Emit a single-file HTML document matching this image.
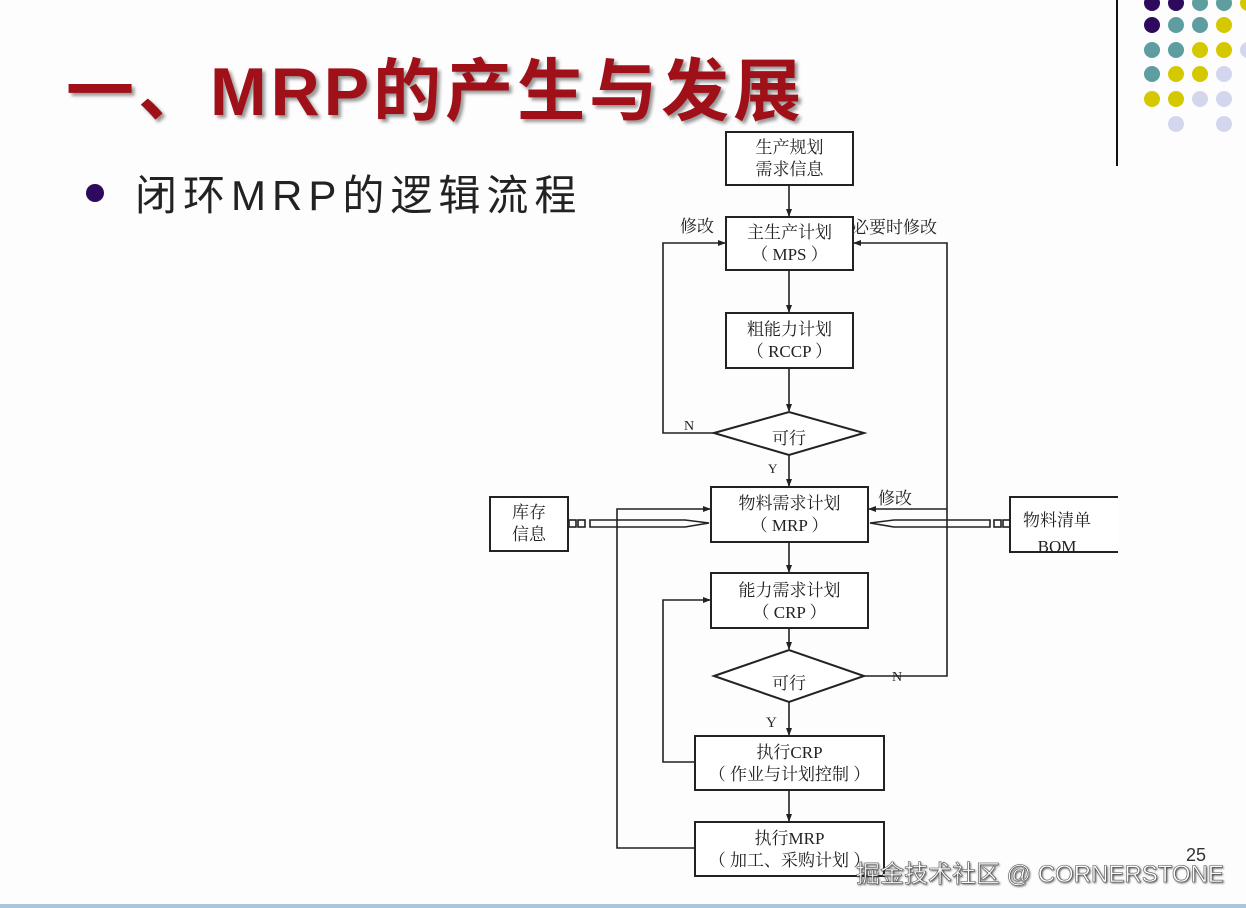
<!DOCTYPE html>
<html><head><meta charset="utf-8"><style>
body{margin:0;width:1246px;height:908px;background:#fdfdfe;overflow:hidden;position:relative;font-family:"Liberation Serif","Noto Serif CJK SC",serif}
.t{position:absolute}
</style></head><body>
<svg width="1246" height="908" style="position:absolute;left:0;top:0" xmlns="http://www.w3.org/2000/svg">
<defs><marker id="a" markerWidth="8" markerHeight="8" refX="7" refY="4" orient="auto" markerUnits="userSpaceOnUse"><path d="M0,1 L8,4 L0,7 z" fill="#222"/></marker></defs>
<line x1="1117" y1="0" x2="1117" y2="166" stroke="#111" stroke-width="2"/>
<g>
<circle cx="1152" cy="3" r="8" fill="#2e0a5e"/><circle cx="1176" cy="3" r="8" fill="#2e0a5e"/><circle cx="1200" cy="3" r="8" fill="#5f9ea0"/><circle cx="1224" cy="3" r="8" fill="#5f9ea0"/><circle cx="1248" cy="3" r="8" fill="#d4c800"/>
<circle cx="1152" cy="25" r="8" fill="#2e0a5e"/><circle cx="1176" cy="25" r="8" fill="#5f9ea0"/><circle cx="1200" cy="25" r="8" fill="#5f9ea0"/><circle cx="1224" cy="25" r="8" fill="#d4c800"/>
<circle cx="1152" cy="50" r="8" fill="#5f9ea0"/><circle cx="1176" cy="50" r="8" fill="#5f9ea0"/><circle cx="1200" cy="50" r="8" fill="#d4c800"/><circle cx="1224" cy="50" r="8" fill="#d4c800"/><circle cx="1248" cy="50" r="8" fill="#d4d6ee"/>
<circle cx="1152" cy="74" r="8" fill="#5f9ea0"/><circle cx="1176" cy="74" r="8" fill="#d4c800"/><circle cx="1200" cy="74" r="8" fill="#d4c800"/><circle cx="1224" cy="74" r="8" fill="#d4d6ee"/>
<circle cx="1152" cy="99" r="8" fill="#d4c800"/><circle cx="1176" cy="99" r="8" fill="#d4c800"/><circle cx="1200" cy="99" r="8" fill="#d4d6ee"/><circle cx="1224" cy="99" r="8" fill="#d4d6ee"/>
<circle cx="1176" cy="124" r="8" fill="#d4d6ee"/><circle cx="1224" cy="124" r="8" fill="#d4d6ee"/>
</g>
<g fill="#fff" stroke="#222" stroke-width="2">
<rect x="726" y="132" width="127" height="53"/>
<rect x="726" y="217" width="127" height="53"/>
<rect x="726" y="313" width="127" height="55"/>
<polygon points="714,433 789,412 864,433 789,455"/>
<rect x="711" y="487" width="157" height="55"/>
<rect x="711" y="573" width="157" height="55"/>
<polygon points="714,676 789,650 864,676 789,702"/>
<rect x="695" y="736" width="189" height="54"/>
<rect x="695" y="822" width="189" height="54"/>
<rect x="490" y="497" width="78" height="54"/>
<path d="M1118,497 H1010 V552 H1118" />
</g>
<g fill="none" stroke="#222" stroke-width="1.6">
<line x1="789" y1="185" x2="789" y2="216" marker-end="url(#a)"/>
<line x1="789" y1="270" x2="789" y2="312" marker-end="url(#a)"/>
<line x1="789" y1="368" x2="789" y2="411" marker-end="url(#a)"/>
<line x1="789" y1="455" x2="789" y2="486" marker-end="url(#a)"/>
<line x1="789" y1="542" x2="789" y2="572" marker-end="url(#a)"/>
<line x1="789" y1="628" x2="789" y2="649" marker-end="url(#a)"/>
<line x1="789" y1="702" x2="789" y2="735" marker-end="url(#a)"/>
<line x1="789" y1="790" x2="789" y2="821" marker-end="url(#a)"/>
<polyline points="714,433 663,433 663,243 725,243" marker-end="url(#a)"/>
<polyline points="864,676 947,676 947,243 854,243" marker-end="url(#a)"/>
<polyline points="947,509 869,509" marker-end="url(#a)"/>
<polyline points="695,762 663,762 663,600 710,600" marker-end="url(#a)"/>
<polyline points="695,848 617,848 617,509 710,509" marker-end="url(#a)"/>
<path d="M590,520 H685 L709,523 L685,527 H590 Z"/>
<rect x="569" y="520" width="7" height="7"/><rect x="578" y="520" width="7" height="7"/>
<path d="M990,520 H894 L870,523 L894,527 H990 Z"/>
<rect x="994" y="520" width="7" height="7"/><rect x="1003" y="520" width="7" height="7"/>
</g>
<rect x="0" y="904" width="1246" height="4" fill="#a9c6dc"/>
</svg>
<div class="t" style="left:66px;top:36px;font:bold 68px 'Liberation Sans','Noto Sans CJK SC',sans-serif;color:#a01018;text-shadow:3px 3px 3px #999;letter-spacing:4px;white-space:nowrap">一、MRP的产生与发展</div>
<div class="t" style="left:86px;top:184px;width:18px;height:18px;border-radius:50%;background:#2e0a5e"></div>
<div class="t" style="left:135px;top:162px;font:42px 'Liberation Sans','Noto Sans CJK SC',sans-serif;color:#222;letter-spacing:6px;white-space:nowrap">闭环MRP的逻辑流程</div>
<div style="font-size:17px;color:#222;line-height:22px">
<div class="t" style="left:726px;top:137px;width:127px;text-align:center">生产规划<br>需求信息</div>
<div class="t" style="left:726px;top:222px;width:127px;text-align:center">主生产计划<br>（ MPS ）</div>
<div class="t" style="left:726px;top:319px;width:127px;text-align:center">粗能力计划<br>（ RCCP ）</div>
<div class="t" style="left:714px;top:428px;width:150px;text-align:center">可行</div>
<div class="t" style="left:711px;top:493px;width:157px;text-align:center">物料需求计划<br>（ MRP ）</div>
<div class="t" style="left:711px;top:580px;width:157px;text-align:center">能力需求计划<br>（ CRP ）</div>
<div class="t" style="left:714px;top:673px;width:150px;text-align:center">可行</div>
<div class="t" style="left:695px;top:742px;width:189px;text-align:center">执行CRP<br>（ 作业与计划控制 ）</div>
<div class="t" style="left:695px;top:828px;width:189px;text-align:center;white-space:nowrap">执行MRP<br>（ 加工、采购计划 ）</div>
<div class="t" style="left:490px;top:502px;width:78px;text-align:center">库存<br>信息</div>
<div class="t" style="left:1012px;top:508px;width:90px;text-align:center;line-height:26px">物料清单<br>BOM</div>
<div class="t" style="left:680px;top:216px">修改</div>
<div class="t" style="left:852px;top:217px">必要时修改</div>
<div class="t" style="left:878px;top:488px">修改</div>
<div class="t" style="left:684px;top:416px;font-size:14px">N</div>
<div class="t" style="left:768px;top:458px;font-size:13px">Y</div>
<div class="t" style="left:892px;top:667px;font-size:14px">N</div>
<div class="t" style="left:766px;top:712px;font-size:15px">Y</div>
</div>
<div class="t" style="left:1186px;top:845px;font:18px 'Liberation Sans',sans-serif;color:#333">25</div>
<div class="t" style="left:856px;top:854px;font:24px 'Liberation Sans','Noto Sans CJK SC',sans-serif;color:#fff;-webkit-text-stroke:0.6px #555;text-shadow:1px 1px 2px #333">掘金技术社区 @ CORNERSTONE</div>
</body></html>
